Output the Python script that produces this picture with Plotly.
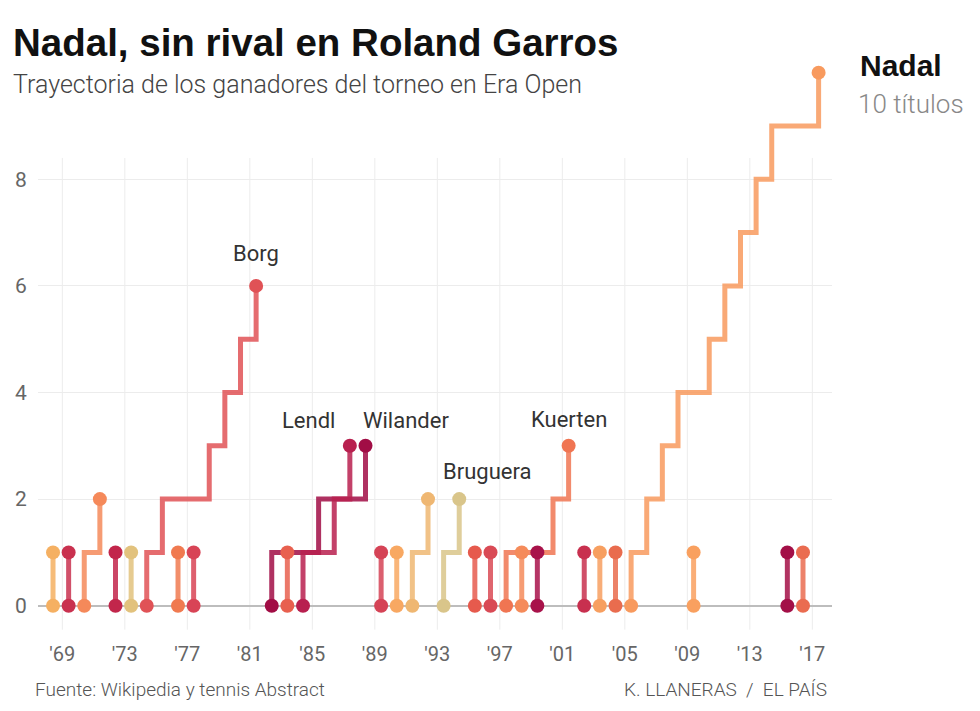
import plotly.graph_objects as go

# ---- data ----
years = list(range(1968, 2018))
winners = ["Rosewall", "Laver", "Kodes", "Kodes", "Gimeno", "Nastase", "Borg", "Borg",
           "Panatta", "Vilas", "Borg", "Borg", "Borg", "Borg", "Wilander", "Noah",
           "Lendl", "Wilander", "Lendl", "Lendl", "Wilander", "Chang", "Gómez",
           "Courier", "Courier", "Bruguera", "Bruguera", "Muster", "Kafelnikov",
           "Kuerten", "Moyá", "Agassi", "Kuerten", "Kuerten", "Costa", "Ferrero",
           "Gaudio", "Nadal", "Nadal", "Nadal", "Nadal", "Federer", "Nadal", "Nadal",
           "Nadal", "Nadal", "Nadal", "Wawrinka", "Djokovic", "Nadal"]
player_colors = {
    "Rosewall": "#f5b062", "Laver": "#c9314f", "Kodes": "#f5895a", "Gimeno": "#c2264b",
    "Nastase": "#e2c27d", "Borg": "#e05256", "Panatta": "#f07a50", "Vilas": "#d84456",
    "Wilander": "#a10d45", "Noah": "#e8604f", "Lendl": "#b8204f", "Chang": "#d54356",
    "Gómez": "#f8a862", "Courier": "#efb772", "Bruguera": "#d9c58a", "Muster": "#e65a4d",
    "Kafelnikov": "#d94a55", "Kuerten": "#f07552", "Moyá": "#f58b5a", "Agassi": "#a8124a",
    "Costa": "#c8304f", "Ferrero": "#f79f60", "Gaudio": "#e96c4e", "Nadal": "#f89a5e",
    "Federer": "#f9a05f", "Wawrinka": "#a30f47", "Djokovic": "#ea6c50",
}
tick_years = list(range(1969, 2018, 4))
y_ticks = [0, 2, 4, 6, 8]

FONT = "Roboto"
TITLE_FONT = "Liberation Sans"


def final_date(y):
    return f"{y}-05-28"


def rgba(hexc, a):
    h = hexc.lstrip("#")
    r, g, b = int(h[0:2], 16), int(h[2:4], 16), int(h[4:6], 16)
    return f"rgba({r},{g},{b},{a})"


fig = go.Figure()

order = []
for w in winners:
    if w not in order:
        order.append(w)

for p in order:
    wins = [y for y, w in zip(years, winners) if w == p]
    xs = [final_date(wins[0])] + [final_date(y) for y in wins]
    ys = [0] + list(range(1, len(wins) + 1))
    col = player_colors[p]
    fig.add_trace(go.Scatter(
        x=xs, y=ys, mode="lines", line=dict(shape="hv", width=5, color=rgba(col, 0.85)),
        hoverinfo="skip", showlegend=False))
    fig.add_trace(go.Scatter(
        x=[xs[0], xs[-1]], y=[ys[0], ys[-1]], mode="markers",
        marker=dict(size=14, color=col), name=p, showlegend=False,
        cliponaxis=False))

for ty in tick_years:
    fig.add_shape(type="line", xref="x", yref="y", x0=f"{ty}-01-01", x1=f"{ty}-01-01",
                  y0=-0.45, y1=8.4, line=dict(color="#ececec", width=1), layer="below")

label_font = dict(family=FONT, size=22, color="#333")
fig.add_annotation(x=final_date(1981), y=6.6, text="Borg", showarrow=False,
                   xanchor="center", yanchor="middle", font=label_font)
fig.add_annotation(x="1986-08-01", y=3.48, text="Lendl", showarrow=False,
                   xanchor="right", yanchor="middle", font=label_font)
fig.add_annotation(x="1988-02-01", y=3.48, text="Wilander", showarrow=False,
                   xanchor="left", yanchor="middle", font=label_font)
fig.add_annotation(x="1996-03-01", y=2.51, text="Bruguera", showarrow=False,
                   xanchor="center", yanchor="middle", font=label_font)
fig.add_annotation(x=final_date(2001), y=3.5, text="Kuerten", showarrow=False,
                   xanchor="center", yanchor="middle", font=label_font)

# page pixel geometry (the page body adds an 8px margin)
OFF = 8
L, R, T, B = 38 - OFF, 832 - OFF, 57 - OFF, 630 - OFF
W, H = 980 - OFF, 711 - OFF
pw, ph = R - L, B - T


def px(xpage):
    return (xpage - OFF - L) / pw


def py(ypage):
    return (B - (ypage - OFF)) / ph


fig.add_annotation(xref="paper", yref="paper", x=px(11), y=py(42),
                   text="<b>Nadal, sin rival en Roland Garros</b>", showarrow=False,
                   xanchor="left", yanchor="middle",
                   font=dict(family=TITLE_FONT, size=38.5, color="#111"))
fig.add_annotation(xref="paper", yref="paper", x=px(11), y=py(84),
                   text="Trayectoria de los ganadores del torneo en Era Open", showarrow=False,
                   xanchor="left", yanchor="middle",
                   font=dict(family=FONT, size=25, color="#444", weight=300))
fig.add_annotation(xref="paper", yref="paper", x=px(858), y=py(66),
                   text="<b>Nadal</b>", showarrow=False, xanchor="left", yanchor="middle",
                   font=dict(family=TITLE_FONT, size=30, color="#111"))
fig.add_annotation(xref="paper", yref="paper", x=px(856), y=py(104),
                   text="10 títulos", showarrow=False, xanchor="left", yanchor="middle",
                   font=dict(family=FONT, size=26, color="#888", weight=300))
fig.add_annotation(xref="paper", yref="paper", x=px(33), y=py(690),
                   text="Fuente: Wikipedia y tennis Abstract", showarrow=False,
                   xanchor="left", yanchor="middle",
                   font=dict(family=FONT, size=19, color="#555", weight=300))
fig.add_annotation(xref="paper", yref="paper", x=px(829), y=py(690),
                   text="K. LLANERAS  /  EL PAÍS", showarrow=False,
                   xanchor="right", yanchor="middle",
                   font=dict(family=FONT, size=19, color="#555", weight=300))

fig.update_layout(
    width=W, height=H, autosize=False,
    margin=dict(l=L, r=W - R, t=T, b=H - B),
    plot_bgcolor="white", paper_bgcolor="white",
    xaxis=dict(
        type="date", range=["1967-06-12", "2018-04-06"], automargin=False,
        tickvals=[f"{y}-01-01" for y in tick_years],
        ticktext=[f"'{str(y)[2:]}" for y in tick_years],
        showgrid=False, zeroline=False, showline=False,
        ticks="outside", ticklen=6, tickcolor="rgba(0,0,0,0)",
        tickfont=dict(family=FONT, size=20, color="#666"),
    ),
    yaxis=dict(
        range=[-0.456, 10.294], tickvals=y_ticks, automargin=False,
        showgrid=True, gridcolor="#ececec", gridwidth=1,
        zeroline=True, zerolinecolor="#bdbdbd", zerolinewidth=2,
        showline=False, ticks="outside", ticklen=6, tickcolor="rgba(0,0,0,0)",
        tickfont=dict(family=FONT, size=21, color="#666"),
    ),
)

fig.write_html("out.html")
